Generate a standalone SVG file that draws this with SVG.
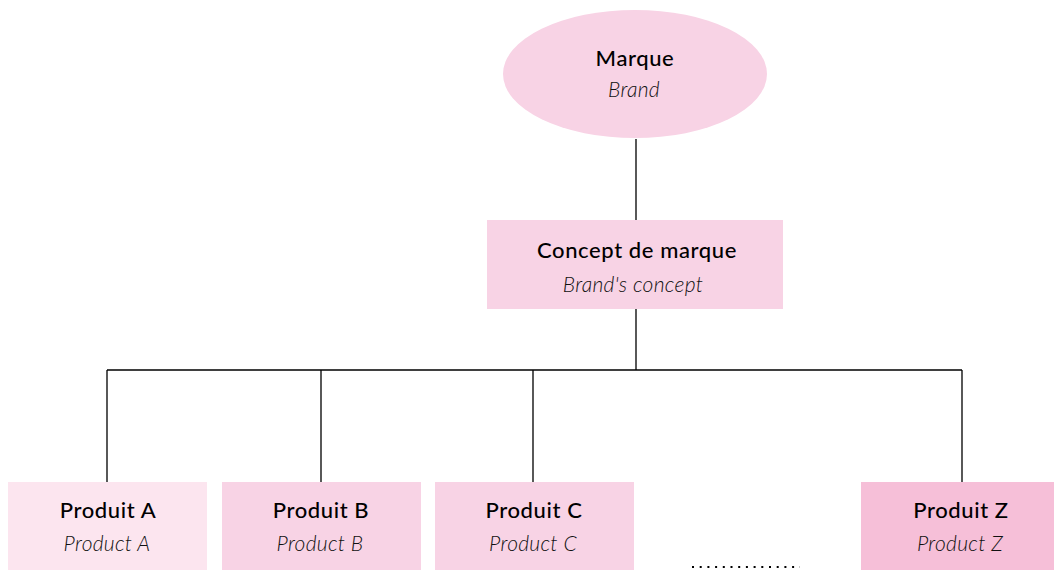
<svg xmlns="http://www.w3.org/2000/svg" width="1054" height="570" viewBox="0 0 1054 570">
<style>
.t{font-family:"Lato","Liberation Sans",sans-serif;font-size:22px;fill:#000;text-anchor:middle;font-weight:500;letter-spacing:0.6px}
.s{font-family:"Lato","Liberation Sans",sans-serif;font-size:21px;fill:#111;text-anchor:middle;font-style:italic;font-weight:300;letter-spacing:0.3px}
.n{fill:#f8d3e5}
.c{stroke:#000;stroke-width:1.3;fill:none}
</style>
<rect width="1054" height="570" fill="#fff"/>
<g id="connectors">
<path class="c" d="M636 139V220M636 309V370M107 370H962M107 370V482M321 370V482M533 370V482M962 370V482"/>
</g>
<g id="brand">
<ellipse class="n" cx="635" cy="74" rx="132" ry="64"/>
<text class="t" x="635" y="66">Marque</text>
<text class="s" x="634" y="97">Brand</text>
</g>
<g id="concept">
<rect class="n" x="487" y="220" width="296" height="89"/>
<text class="t" x="637" y="258">Concept de marque</text>
<text class="s" x="633" y="292">Brand's concept</text>
</g>
<g id="productA">
<rect x="8" y="482" width="199" height="90" fill="#fce5ef"/>
<text class="t" x="108" y="518">Produit A</text>
<text class="s" x="107" y="551">Product A</text>
</g>
<g id="productB">
<rect class="n" x="222" y="482" width="199" height="90"/>
<text class="t" x="321" y="518">Produit B</text>
<text class="s" x="320" y="551">Product B</text>
</g>
<g id="productC">
<rect class="n" x="435" y="482" width="199" height="90"/>
<text class="t" x="534" y="518">Produit C</text>
<text class="s" x="533" y="551">Product C</text>
</g>
<g id="ellipsis">
<line x1="692" y1="567" x2="800" y2="567" stroke="#000" stroke-width="2" stroke-dasharray="2 5.7"/>
</g>
<g id="productZ">
<rect x="861" y="482" width="199" height="90" fill="#f6bfd8"/>
<text class="t" x="961" y="518">Produit Z</text>
<text class="s" x="960" y="551">Product Z</text>
</g>
</svg>
